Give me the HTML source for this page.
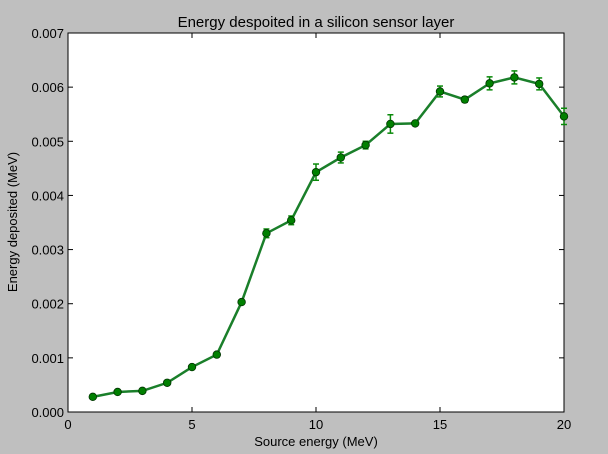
<!DOCTYPE html>
<html><head><meta charset="utf-8"><style>
body{margin:0;background:#bfbfbf;}
svg{display:block;font-family:"Liberation Sans","DejaVu Sans",sans-serif;}
</style></head><body>
<svg id="chart" width="608" height="454">
<rect x="0" y="0" width="608" height="454" fill="#bfbfbf"/>
<text x="316" y="27" font-size="15" text-anchor="middle">Energy despoited in a silicon sensor layer</text>
<rect x="68" y="33" width="496" height="379" fill="#fff" stroke="#000" stroke-width="1"/>
<g id="axes"></g>
<g id="series"></g>
<text x="316" y="446" font-size="13" text-anchor="middle">Source energy (MeV)</text>
<text x="17" y="222" font-size="13" text-anchor="middle" transform="rotate(-90 17 222)">Energy deposited (MeV)</text>
</svg>
<script>
const xValues=[1,2,3,4,5,6,7,8,9,10,11,12,13,14,15,16,17,18,19,20];
const yValues=[0.00028,0.00037,0.00039,0.00054,0.00083,0.00106,0.00203,0.0033,0.00354,0.00443,0.0047,0.00493,0.00532,0.00533,0.00592,0.00577,0.00607,0.00618,0.00606,0.00546];
const yErrors=[0.00003,0.00003,0.00003,0.00003,0.00003,0.00003,0.00003,0.00008,0.00008,0.00015,0.0001,0.00007,0.00017,0.00003,0.0001,0.00005,0.00012,0.00012,0.00011,0.00015];
const xTicks=[0,5,10,15,20];
const yTicks=[0,0.001,0.002,0.003,0.004,0.005,0.006,0.007];
const yTickLabels=["0.000","0.001","0.002","0.003","0.004","0.005","0.006","0.007"];
const L=68,R=564,T=33,B=412;
const xs=v=>L+(v-0)/20*(R-L);
const ys=v=>B-(v/0.007)*(B-T);
const NS="http://www.w3.org/2000/svg";
const axes=document.getElementById('axes'),ser=document.getElementById('series');
function mk(tag,attrs,parent){const e=document.createElementNS(NS,tag);for(const k in attrs)e.setAttribute(k,attrs[k]);parent.appendChild(e);return e;}
xTicks.forEach(t=>{
 const x=xs(t);
 const a=mk('line',{x1:x,x2:x,y1:B,y2:B-5,stroke:'#000'},axes);
 
 
 const b=mk('line',{x1:x,x2:x,y1:T,y2:T+5,stroke:'#000'},axes);
 
 
 const tx=mk('text',{x:x,y:B+17,'font-size':13,'text-anchor':'middle'},axes);
 tx.textContent=t;
 
 
});
yTicks.forEach((t,i)=>{
 const y=ys(t);
 const a=mk('line',{x1:L,x2:L+5,y1:y,y2:y,stroke:'#000'},axes);
 
 
 const b=mk('line',{x1:R,x2:R-5,y1:y,y2:y,stroke:'#000'},axes);
 
 
 const tx=mk('text',{x:L-4,y:y+5,'font-size':13,'text-anchor':'end'},axes);
 tx.textContent=yTickLabels[i];
 
 
});
const pts=xValues.map((x,i)=>xs(x)+','+ys(yValues[i])).join(' ');
const line=mk('polyline',{points:pts,fill:'none',stroke:'#1a7f2a','stroke-width':2.5},ser);


xValues.forEach((x,i)=>{
 const cx=xs(x),y1=ys(yValues[i]-yErrors[i]),y2=ys(yValues[i]+yErrors[i]);
 const g=mk('g',{stroke:'#0a8a0a','stroke-width':1.5},ser);
 
 
 mk('line',{x1:cx,x2:cx,y1:y1,y2:y2},g);
 mk('line',{x1:cx-3,x2:cx+3,y1:y1,y2:y1},g);
 mk('line',{x1:cx-3,x2:cx+3,y1:y2,y2:y2},g);
 const c=mk('circle',{cx:cx,cy:ys(yValues[i]),r:3.8,fill:'#008000',stroke:'#003300','stroke-width':0.8},ser);
 
 
});
</script>
</body></html>
